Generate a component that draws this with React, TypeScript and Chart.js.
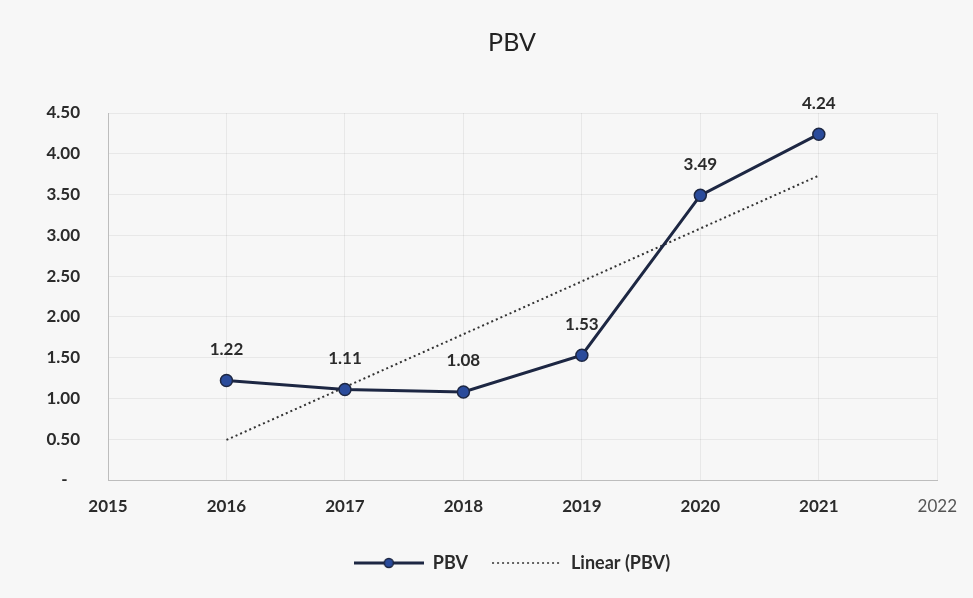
import React, { useEffect, useRef } from "react";
import { Chart, registerables } from "chart.js";

Chart.register(...registerables);

// PBV per year
const years = [2016, 2017, 2018, 2019, 2020, 2021];
const pbv = [1.22, 1.11, 1.08, 1.53, 3.49, 4.24];

// axis ranges
const xMin = 2015;
const xMax = 2022;
const yMax = 4.5;
const yStep = 0.5;

const LINE_COLOR = "#1d2743";
const MARKER_COLOR = "#2a4b9b";
const TEXT_COLOR = "#2b2b2b";
const FONT = "Lato, 'Open Sans', sans-serif";

// least-squares fit, evaluated at the first and last year
function linearTrend(xs: number[], ys: number[]) {
  const n = xs.length;
  const mx = xs.reduce((a, b) => a + b, 0) / n;
  const my = ys.reduce((a, b) => a + b, 0) / n;
  let sxy = 0;
  let sxx = 0;
  for (let i = 0; i < n; i++) {
    sxy += (xs[i] - mx) * (ys[i] - my);
    sxx += (xs[i] - mx) * (xs[i] - mx);
  }
  const slope = sxy / sxx;
  const at = (x: number) => my + slope * (x - mx);
  return [
    { x: xs[0], y: at(xs[0]) },
    { x: xs[n - 1], y: at(xs[n - 1]) },
  ];
}

function legendSwatch(kind: "marker" | "dotted") {
  const c = document.createElement("canvas");
  c.width = 70;
  c.height = 14;
  const ctx = c.getContext("2d")!;
  ctx.lineWidth = kind === "marker" ? 3 : 1.6;
  ctx.strokeStyle = kind === "marker" ? LINE_COLOR : "#333";
  if (kind === "dotted") ctx.setLineDash([2, 3]);
  ctx.beginPath();
  ctx.moveTo(0, 7);
  ctx.lineTo(70, 7);
  ctx.stroke();
  if (kind === "marker") {
    ctx.setLineDash([]);
    ctx.beginPath();
    ctx.arc(35, 7, 4.5, 0, Math.PI * 2);
    ctx.fillStyle = MARKER_COLOR;
    ctx.fill();
    ctx.lineWidth = 1.5;
    ctx.strokeStyle = LINE_COLOR;
    ctx.stroke();
  }
  return c;
}

const paperBackground = {
  id: "paperBackground",
  beforeDraw(chart: any) {
    const { ctx, width, height } = chart;
    ctx.save();
    ctx.fillStyle = "#f7f7f7";
    ctx.fillRect(0, 0, width, height);
    ctx.restore();
  },
};

// title and legend are centred over the frame, which starts left of the plot
const frameCentring = {
  id: "frameCentring",
  afterLayout(chart: any) {
    const inset = 75;
    if (chart.titleBlock) chart.titleBlock.left = inset;
    if (chart.legend) chart.legend.left = inset;
  },
};

const valueLabels = {
  id: "valueLabels",
  afterDatasetsDraw(chart: any) {
    const { ctx } = chart;
    const meta = chart.getDatasetMeta(0);
    ctx.save();
    ctx.font = `bold 17px ${FONT}`;
    ctx.fillStyle = TEXT_COLOR;
    ctx.textAlign = "center";
    ctx.textBaseline = "middle";
    meta.data.forEach((pt: any, i: number) => {
      ctx.fillText(pbv[i].toFixed(2), pt.x, pt.y - 31);
    });
    ctx.restore();
  },
};

export default function App() {
  const canvasRef = useRef<HTMLCanvasElement | null>(null);

  useEffect(() => {
    if (!canvasRef.current) return;
    const trend = linearTrend(years, pbv);
    const chart = new Chart(canvasRef.current, {
      type: "line",
      data: {
        datasets: [
          {
            label: "PBV",
            data: years.map((y, i) => ({ x: y, y: pbv[i] })),
            borderColor: LINE_COLOR,
            borderWidth: 3,
            pointRadius: 6,
            pointBackgroundColor: MARKER_COLOR,
            pointBorderColor: LINE_COLOR,
            pointBorderWidth: 1.5,
            tension: 0,
          },
          {
            label: "Linear (PBV)",
            data: trend,
            borderColor: "#333333",
            borderWidth: 2,
            borderDash: [2, 3],
            pointRadius: 0,
          },
        ],
      },
      options: {
        responsive: false,
        animation: false,
        devicePixelRatio: 1,
        layout: { padding: { left: 0, right: 24, top: 0, bottom: 16 } },
        plugins: {
          tooltip: { enabled: false },
          title: {
            display: true,
            text: "PBV",
            color: "#222",
            font: { family: FONT, size: 25, weight: "normal" },
            padding: { top: 28, bottom: 55 },
          },
          legend: {
            display: true,
            position: "bottom",
            labels: {
              usePointStyle: true,
              pointStyleWidth: 70,
              color: TEXT_COLOR,
              font: { family: FONT, size: 18, weight: "bold" },
              padding: 24,
              generateLabels: (ch: any) =>
                ch.data.datasets.map((ds: any, i: number) => ({
                  text: ds.label,
                  pointStyle: i === 0 ? legendSwatch("marker") : legendSwatch("dotted"),
                  fillStyle: "transparent",
                  strokeStyle: "transparent",
                  lineWidth: 0,
                  fontColor: TEXT_COLOR,
                  datasetIndex: i,
                  hidden: false,
                })),
            },
          },
        },
        scales: {
          x: {
            type: "linear",
            min: xMin,
            max: xMax,
            afterFit: (s: any) => {
              s.height = 50;
            },
            ticks: {
              stepSize: 1,
              padding: 16,
              callback: (v: any) => String(v),
              color: (c: any) => (c.tick && c.tick.value === xMax ? "#555" : TEXT_COLOR),
              font: (c: any) =>
                c.tick && c.tick.value === xMax
                  ? { family: FONT, size: 17, weight: "normal" }
                  : { family: FONT, size: 17, weight: "bold" },
            },
            grid: { color: "rgba(0,0,0,0.06)", drawTicks: false },
            border: { color: "#bdbdbd" },
          },
          y: {
            min: 0,
            max: yMax,
            afterFit: (s: any) => {
              s.width = 108;
            },
            ticks: {
              stepSize: yStep,
              padding: 28,
              color: TEXT_COLOR,
              font: { family: FONT, size: 17, weight: "bold" },
              callback: (v: any) => (Number(v) === 0 ? "-   " : Number(v).toFixed(2)),
            },
            grid: { color: "rgba(0,0,0,0.06)", drawTicks: false },
            border: { color: "#bdbdbd" },
          },
        },
      },
      plugins: [paperBackground, frameCentring, valueLabels],
    });
    return () => chart.destroy();
  }, []);

  return (
    <div style={{ position: "fixed", left: 0, top: 0, width: 973, height: 598 }}>
      <canvas ref={canvasRef} width={973} height={598} style={{ width: 973, height: 598 }} />
    </div>
  );
}
